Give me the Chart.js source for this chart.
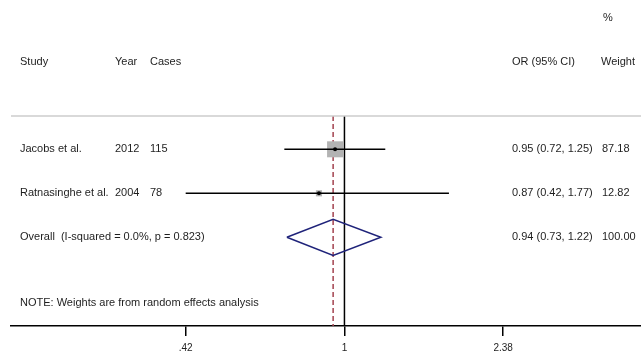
<!DOCTYPE html>
<html>
<head>
<meta charset="utf-8">
<script src="https://cdn.jsdelivr.net/npm/chart.js@4/dist/chart.umd.min.js"></script>
<style>
  html, body { margin: 0; padding: 0; background: #fff; overflow: hidden; }
  canvas { display: block; }
</style>
</head>
<body>
<canvas id="forest" width="641" height="353" style="width:641px;height:353px"></canvas>
<script>
// Study rows
const studies = ["Jacobs et al.", "Ratnasinghe et al."];
const years = ["2012", "2004"];
const cases = ["115", "78"];
const orValues = [0.95, 0.87];
const ciLow = [0.72, 0.42];
const ciHigh = [1.25, 1.77];
const weights = [87.18, 12.82];

// Pooled estimate
const overallLabel = "Overall  (I-squared = 0.0%, p = 0.823)";
const overallOR = 0.94;
const overallLow = 0.73;
const overallHigh = 1.22;
const overallWeight = "100.00";

const noteText = "NOTE: Weights are from random effects analysis";

// Axis ticks
const tickValues = [0.42, 1, 2.38];
const tickLabels = [".42", "1", "2.38"];

// Layout of rows (in row units, top to bottom)
const Y_MIN = 0.243, Y_MAX = 5.016;
const X_MIN = 0.1617, X_MAX = 5.055;
const rowOf = i => i + 1;
const overallRow = 3;
const noteRow = 4.493;
const DIAMOND_HALF = 0.41;
const MAX_BOX = 16;

const FONT = "11px 'Liberation Sans', Arial, sans-serif";
const TEXT = "#1e1e1e";

const fmt = v => v.toFixed(2);
const maxW = Math.max(...weights);

// CI whiskers
const ciSets = studies.map((s, i) => ({
  type: 'line',
  data: [{x: ciLow[i], y: rowOf(i)}, {x: ciHigh[i], y: rowOf(i)}],
  borderColor: '#000', borderWidth: 1.5, pointRadius: 0, order: 2, clip: false
}));

// weight boxes
const boxSet = {
  type: 'scatter',
  data: studies.map((s, i) => ({x: orValues[i], y: rowOf(i)})),
  pointStyle: 'rect',
  pointRadius: weights.map(w => MAX_BOX * Math.sqrt(w / maxW) / Math.SQRT2),
  backgroundColor: '#b3b3b3', borderWidth: 0, order: 3
};

// point estimates
const dotSet = {
  type: 'scatter',
  data: studies.map((s, i) => ({x: orValues[i], y: rowOf(i)})),
  pointRadius: 2, backgroundColor: '#000', borderWidth: 0, order: 1
};

// pooled diamond
const diamondSet = {
  type: 'line',
  data: [
    {x: overallLow, y: overallRow},
    {x: overallOR, y: overallRow - DIAMOND_HALF},
    {x: overallHigh, y: overallRow},
    {x: overallOR, y: overallRow + DIAMOND_HALF},
    {x: overallLow, y: overallRow}
  ],
  borderColor: '#1f237a', borderWidth: 1.5, pointRadius: 0, fill: false, tension: 0, order: 1
};

// null line and pooled-estimate line
const nullLine = {
  type: 'line',
  data: [{x: 1, y: Y_MIN}, {x: 1, y: Y_MAX}],
  borderColor: '#000', borderWidth: 1.5, pointRadius: 0, order: 4
};
const pooledLine = {
  type: 'line',
  data: [{x: overallOR, y: Y_MIN}, {x: overallOR, y: Y_MAX}],
  borderColor: '#a3424f', borderWidth: 1.5, borderDash: [5, 3], pointRadius: 0, order: 4
};

const textPlugin = {
  id: 'forestText',
  afterDraw(chart) {
    const {ctx, chartArea, scales} = chart;
    const y = scales.y;
    ctx.save();
    // header separator
    ctx.strokeStyle = '#cccccc';
    ctx.lineWidth = 1.5;
    ctx.beginPath();
    ctx.moveTo(chartArea.left, chartArea.top);
    ctx.lineTo(chartArea.right, chartArea.top);
    ctx.stroke();

    ctx.font = FONT;
    ctx.fillStyle = TEXT;
    ctx.textBaseline = 'middle';
    ctx.textAlign = 'left';

    ctx.fillText("%", 603, 18);
    ctx.fillText("Study", 20, 62);
    ctx.fillText("Year", 115, 62);
    ctx.fillText("Cases", 150, 62);
    ctx.fillText("OR (95% CI)", 512, 62);
    ctx.fillText("Weight", 601, 62);

    studies.forEach((s, i) => {
      const py = y.getPixelForValue(rowOf(i));
      ctx.fillText(s, 20, py);
      ctx.fillText(years[i], 115, py);
      ctx.fillText(cases[i], 150, py);
      ctx.fillText(fmt(orValues[i]) + " (" + fmt(ciLow[i]) + ", " + fmt(ciHigh[i]) + ")", 512, py);
      ctx.fillText(fmt(weights[i]), 602, py);
    });

    const po = y.getPixelForValue(overallRow);
    ctx.fillText(overallLabel, 20, po);
    ctx.fillText(fmt(overallOR) + " (" + fmt(overallLow) + ", " + fmt(overallHigh) + ")", 512, po);
    ctx.fillText(overallWeight, 602, po);

    ctx.fillText(noteText, 20, y.getPixelForValue(noteRow));
    ctx.restore();
  }
};

new Chart(document.getElementById('forest'), {
  data: { datasets: [...ciSets, boxSet, dotSet, diamondSet, nullLine, pooledLine] },
  options: {
    responsive: false,
    animation: false,
    devicePixelRatio: 1,
    layout: { autoPadding: false, padding: { left: 11, top: 116, right: 0, bottom: 0 } },
    plugins: { legend: { display: false }, tooltip: { enabled: false } },
    scales: {
      x: {
        type: 'logarithmic',
        min: X_MIN, max: X_MAX,
        afterBuildTicks: s => { s.ticks = tickValues.map(v => ({value: v})); },
        afterFit: s => { s.height = 27; },
        ticks: {
          autoSkip: false, maxRotation: 0, padding: 6,
          color: TEXT,
          font: { family: "'Liberation Sans', Arial, sans-serif", size: 10 },
          callback: (v, i) => tickLabels[i]
        },
        grid: { drawOnChartArea: false, drawTicks: true, tickLength: 10, color: '#000', lineWidth: 1.5 },
        border: { display: true, color: '#000', width: 1.5 }
      },
      y: {
        type: 'linear', reverse: true, display: false,
        min: Y_MIN, max: Y_MAX
      }
    }
  },
  plugins: [textPlugin]
});
</script>
</body>
</html>
